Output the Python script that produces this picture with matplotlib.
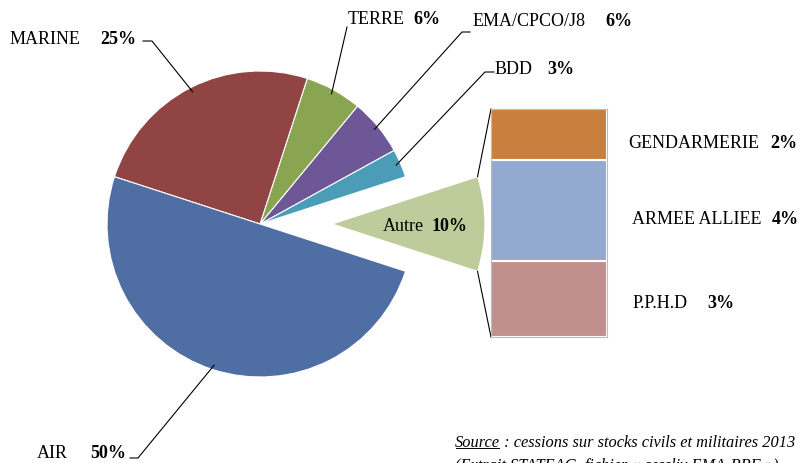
import numpy as np
import matplotlib
matplotlib.use('Agg')
import matplotlib.pyplot as plt

# ==================== DATA ====================
pie_labels = ['Autre', 'BDD', 'EMA/CPCO/J8', 'TERRE', 'MARINE', 'AIR']
pie_values = [10, 3, 6, 6, 25, 50]
pie_colors = ['#BDCC9A', '#4B9CB6', '#6D5797', '#8AA551', '#914444', '#4F6EA3']

bar_labels = ['P.P.H.D', 'ARMEE ALLIEE', 'GENDARMERIE']
bar_values = [3, 4, 2]
bar_colors = ['#C18F8E', '#94A9CF', '#C9803F']

source_lines = ["Source", " : cessions sur stocks civils et militaires 2013",
                "(Extrait STATEAG, fichier \u00ab cessliv EMA-BBF \u00bb)"]
# ==============================================

W, H = 800, 464
plt.rcParams['font.family'] = ['Liberation Serif', 'DejaVu Serif']

def Y(y):  # image row -> data y (y up)
    return H - y

fig = plt.figure(figsize=(8, 4.64), dpi=100)
ax = fig.add_axes([0, 0, 1, 1])

cx, cy, R = 260, 225, 153
explode_px = 72  # pie() uses data units for the explode offset
explode = [explode_px] + [0] * (len(pie_values) - 1)
wedges, _ = ax.pie(pie_values, colors=pie_colors, startangle=-18, counterclock=True,
                   center=(cx, Y(cy)), radius=R, explode=explode,
                   wedgeprops=dict(edgecolor='white', linewidth=0.8))

ax.set_xlim(0, W)
ax.set_ylim(0, H)
ax.set_aspect('equal')
ax.axis('off')

FS = 13
# label text positions (image px): name x, pct x, y, leader points
lab_pos = {
    'MARINE': (10, 100, 40, [(143, 42), (152, 42)]),
    'TERRE': (348, 413, 20, [(347, 28)]),
    'EMA/CPCO/J8': (473, 605, 22, [(470, 33), (462, 33)]),
    'BDD': (495, 547, 70, [(494, 73), (485, 73)]),
    'AIR': (37, 90, 454, [(130, 459), (138, 459)]),
}
for w, lab, val in zip(wedges, pie_labels, pie_values):
    if lab == 'Autre':
        ox, oy = w.center
        ax.text(ox + 51, oy - 2, lab, fontsize=FS, va='center', ha='left')
        ax.text(ox + 100, oy - 2, f"{val}%", fontsize=FS, va='center', ha='left',
                fontweight='bold')
        # connection lines to the bar
        for ang, yb in [(w.theta2, 110), (w.theta1, 338)]:
            a = np.deg2rad(ang)
            ax.plot([ox + R * np.cos(a), 491], [oy + R * np.sin(a), Y(yb)], color='black', lw=0.8)
        continue
    nx, px, ty, pts = lab_pos[lab]
    ax.text(nx, Y(ty), lab, fontsize=FS, va='center', ha='left')
    ax.text(px, Y(ty), f"{val}%", fontsize=FS, va='center', ha='left', fontweight='bold')
    mid = np.deg2rad((w.theta1 + w.theta2) / 2)
    ex, ey = cx + 0.97 * R * np.cos(mid), Y(cy) + 0.97 * R * np.sin(mid)
    xs = [p[0] for p in pts] + [ex]
    ys = [Y(p[1]) for p in pts] + [ey]
    ax.plot(xs, ys, color='black', lw=0.8)

# stacked bar for the "Autre" breakdown
bx0, bx1, by_top, by_bot = 491, 607, 110, 338
bax = fig.add_axes([bx0 / W, Y(by_bot) / H, (bx1 - bx0) / W, (by_bot - by_top) / H])
bottom = 0
for lab, val, col in zip(bar_labels, bar_values, bar_colors):
    bax.bar(0, val, bottom=bottom, width=1, color=col, edgecolor='white', linewidth=1.5)
    bottom += val
bax.set_xlim(-0.5, 0.5)
bax.set_ylim(0, sum(bar_values))
for s in bax.spines.values():
    s.set_color('#BBBBBB')
    s.set_linewidth(0.8)
bax.set_xticks([])
bax.set_yticks([])

bar_text = {'GENDARMERIE': (628, 770, 143), 'ARMEE ALLIEE': (632, 772, 220), 'P.P.H.D': (633, 707, 303)}
for lab, val in zip(bar_labels, bar_values):
    nx, px, ty = bar_text[lab]
    ax.text(nx, Y(ty), lab, fontsize=FS, va='center', ha='left')
    ax.text(px, Y(ty), f"{val}%", fontsize=FS, va='center', ha='left', fontweight='bold')

# source note
t1 = ax.text(455, Y(443), source_lines[0], fontsize=11.8, style='italic', va='center', ha='left')
fig.canvas.draw()
bb = t1.get_window_extent()
ax.text(bb.x1, Y(443), source_lines[1], fontsize=11.8, style='italic', va='center', ha='left')
ax.plot([bb.x0 + 1, bb.x1 - 1], [bb.y0 + 2, bb.y0 + 2], color='black', lw=0.7)
ax.text(455, Y(466), source_lines[2], fontsize=11.8, style='italic', va='center', ha='left')

fig.savefig('out.png', dpi=100)
